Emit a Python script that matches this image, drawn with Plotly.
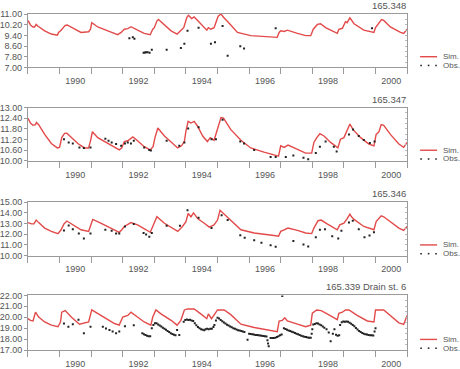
import plotly.graph_objects as go

# ---------------- Panel 1 : 165.348 ----------------
sim1_t = [1989.00, 1989.08, 1989.16, 1989.21, 1989.26, 1989.32, 1989.53, 1989.74, 1989.93, 1989.97,
          1990.05, 1990.18, 1990.24, 1990.42, 1990.68, 1990.92, 1990.98, 1991.02, 1991.21, 1991.53,
          1991.84, 1991.95, 1992.05, 1992.16, 1992.26, 1992.47, 1992.68, 1992.87, 1992.95, 1993.00,
          1993.08, 1993.13, 1993.32, 1993.53, 1993.72, 1993.84, 1993.93, 1994.03, 1994.08, 1994.18,
          1994.26, 1994.37, 1994.53, 1994.66, 1994.71, 1994.79, 1994.89, 1995.02, 1995.11, 1995.19,
          1995.42, 1995.63, 1996.05, 1996.47, 1996.89, 1996.95, 1997.00, 1997.11, 1997.21, 1997.53,
          1997.79, 1997.95, 1998.03, 1998.16, 1998.26, 1998.42, 1998.79, 1998.84, 1998.95, 1999.05,
          1999.10, 1999.19, 1999.32, 1999.63, 1999.95, 2000.00, 2000.11, 2000.19, 2000.26, 2000.47,
          2000.79, 2000.89, 2001.00]
sim1_v = [10.52, 10.18, 10.03, 10.03, 10.22, 10.08, 9.74, 9.50, 9.42, 9.62,
          9.79, 10.15, 10.18, 9.93, 9.62, 9.67, 9.86, 10.35, 10.03, 9.74,
          9.45, 9.62, 9.86, 9.91, 10.05, 9.79, 9.55, 9.45, 9.86, 9.98,
          10.47, 10.59, 10.18, 9.74, 9.50, 9.74, 9.98, 10.76, 10.90, 10.66,
          10.78, 10.52, 10.10, 9.79, 9.98, 9.86, 9.98, 10.83, 11.00, 10.76,
          10.18, 9.62, 9.38, 9.30, 9.25, 9.62, 9.74, 9.69, 9.79, 9.55,
          9.38, 9.38, 9.86, 10.22, 10.27, 9.98, 9.55, 9.86, 9.93, 10.42,
          10.35, 10.71, 10.27, 9.79, 9.62, 9.98, 10.35, 10.59, 10.52, 10.03,
          9.62, 9.55, 9.86]
obs1_t = [1992.21, 1992.32, 1992.37, 1992.66, 1992.70, 1992.74, 1992.79, 1992.85, 1992.92, 1993.39,
          1993.84, 1993.95, 1994.05, 1994.40, 1994.79, 1994.92, 1995.16, 1995.32, 1995.72, 1995.84,
          1996.84, 1999.89]
obs1_v = [9.18, 9.25, 9.15, 8.09, 8.12, 8.14, 8.14, 8.09, 8.33, 8.33,
          8.45, 8.77, 9.74, 9.98, 8.77, 8.89, 10.10, 7.87, 8.58, 8.41,
          9.93, 9.93]

# ---------------- Panel 2 : 165.347 ----------------
sim2_t = [1989.00, 1989.08, 1989.16, 1989.24, 1989.27, 1989.34, 1989.53, 1989.74, 1989.93, 1990.00,
          1990.07, 1990.16, 1990.23, 1990.37, 1990.58, 1990.79, 1990.92, 1990.98, 1991.04, 1991.21,
          1991.53, 1991.74, 1991.89, 1991.97, 1992.05, 1992.16, 1992.32, 1992.47, 1992.68, 1992.87,
          1992.96, 1993.02, 1993.11, 1993.32, 1993.53, 1993.74, 1993.86, 1993.95, 1994.00, 1994.07,
          1994.16, 1994.26, 1994.37, 1994.53, 1994.68, 1994.77, 1994.89, 1995.00, 1995.11, 1995.19,
          1995.42, 1995.74, 1996.05, 1996.47, 1996.84, 1996.93, 1997.00, 1997.11, 1997.23, 1997.53,
          1997.79, 1997.98, 1998.05, 1998.14, 1998.24, 1998.37, 1998.58, 1998.81, 1998.89, 1999.00,
          1999.11, 1999.19, 1999.29, 1999.53, 1999.79, 1999.95, 2000.02, 2000.11, 2000.18, 2000.26,
          2000.47, 2000.74, 2000.89, 2001.00]
sim2_v = [12.40, 12.13, 12.00, 12.04, 12.16, 12.04, 11.49, 10.98, 10.73, 10.76,
          11.31, 11.55, 11.56, 11.31, 10.98, 10.73, 10.73, 11.13, 11.64, 11.31,
          10.98, 10.73, 10.62, 10.73, 11.09, 11.13, 11.35, 11.13, 10.80, 10.62,
          10.80, 11.31, 11.85, 11.40, 11.04, 10.73, 10.85, 11.09, 11.67, 12.22,
          12.13, 12.22, 11.95, 11.40, 11.09, 11.31, 11.16, 11.85, 12.44, 12.40,
          11.76, 11.16, 10.73, 10.49, 10.31, 10.27, 10.85, 10.76, 10.89, 10.67,
          10.44, 10.44, 11.04, 11.31, 11.53, 11.40, 11.04, 10.73, 11.22, 11.31,
          11.71, 12.07, 11.76, 11.31, 10.95, 10.85, 11.49, 11.64, 12.04, 12.00,
          11.49, 10.95, 10.76, 11.04]
obs2_t = [1990.14, 1990.29, 1990.42, 1990.63, 1990.77, 1990.98, 1991.45, 1991.55, 1991.65, 1991.79,
          1991.95, 1992.07, 1992.16, 1992.26, 1992.35, 1992.68, 1992.84, 1992.89, 1993.39, 1993.79,
          1993.95, 1994.07, 1994.40, 1994.81, 1994.95, 1995.16, 1995.72, 1995.84, 1996.16, 1996.68,
          1996.84, 1997.16, 1997.40, 1997.72, 1997.87, 1998.11, 1998.24, 1998.42, 1998.68, 1998.77,
          1999.16, 1999.29, 1999.47, 1999.63, 1999.82, 1999.97]
obs2_v = [11.22, 11.04, 10.98, 10.76, 10.73, 10.76, 11.25, 11.13, 11.04, 10.95,
          10.85, 10.98, 11.04, 10.98, 11.13, 10.76, 10.62, 10.58, 11.13, 10.85,
          11.04, 11.82, 11.89, 11.22, 11.22, 12.31, 11.09, 10.98, 10.62, 10.22,
          10.22, 10.22, 10.31, 10.18, 10.09, 10.45, 10.80, 11.09, 10.80, 10.53,
          11.49, 11.76, 11.40, 11.18, 11.00, 11.09]

# ---------------- Panel 3 : 165.346 ----------------
sim3_t = [1989.00, 1989.11, 1989.19, 1989.26, 1989.34, 1989.53, 1989.74, 1989.95, 1990.05, 1990.14,
          1990.23, 1990.42, 1990.68, 1990.92, 1990.98, 1991.05, 1991.32, 1991.63, 1991.89, 1991.97,
          1992.05, 1992.26, 1992.47, 1992.74, 1992.87, 1992.95, 1993.02, 1993.08, 1993.32, 1993.58,
          1993.74, 1993.89, 1994.00, 1994.07, 1994.16, 1994.24, 1994.37, 1994.58, 1994.74, 1994.89,
          1995.00, 1995.08, 1995.19, 1995.42, 1995.74, 1996.16, 1996.47, 1996.79, 1996.93, 1997.00,
          1997.11, 1997.23, 1997.53, 1997.79, 1997.98, 1998.05, 1998.18, 1998.28, 1998.47, 1998.79,
          1998.87, 1999.00, 1999.11, 1999.19, 1999.24, 1999.32, 1999.63, 1999.95, 2000.02, 2000.18,
          2000.26, 2000.47, 2000.74, 2000.89, 2001.00]
sim3_v = [13.09, 12.97, 12.97, 13.33, 13.09, 12.58, 12.27, 12.06, 12.42, 12.97,
          13.24, 12.88, 12.42, 12.27, 12.73, 13.39, 13.03, 12.58, 12.18, 12.42,
          12.73, 13.09, 12.88, 12.42, 12.18, 12.73, 13.18, 13.64, 13.03, 12.58,
          12.27, 12.73, 13.18, 13.94, 13.64, 14.00, 13.48, 13.03, 12.67, 12.88,
          13.33, 14.24, 13.94, 13.27, 12.42, 12.12, 11.97, 11.88, 11.82, 12.27,
          12.42, 12.58, 12.36, 12.12, 12.06, 12.58, 13.27, 13.33, 12.97, 12.42,
          12.88, 13.03, 13.48, 13.88, 13.64, 13.39, 12.73, 12.42, 13.18, 13.73,
          13.64, 13.18, 12.58, 12.36, 12.73]
obs3_t = [1990.14, 1990.29, 1990.42, 1990.61, 1990.77, 1990.98, 1991.45, 1991.65, 1991.79, 1991.89,
          1992.07, 1992.35, 1992.66, 1992.74, 1992.84, 1992.92, 1993.39, 1993.81, 1994.05, 1994.40,
          1994.81, 1995.13, 1995.32, 1995.72, 1995.86, 1996.16, 1996.39, 1996.68, 1996.84, 1997.40,
          1997.72, 1997.87, 1998.11, 1998.24, 1998.40, 1998.63, 1998.82, 1998.92, 1999.16, 1999.28,
          1999.47, 1999.65, 1999.81, 1999.95]
obs3_v = [12.36, 12.82, 12.48, 12.06, 11.61, 12.06, 12.42, 12.33, 12.06, 12.06,
          12.73, 12.97, 12.12, 11.97, 11.76, 12.12, 12.79, 12.79, 14.24, 13.55,
          12.58, 13.79, 13.33, 11.91, 11.67, 11.45, 11.21, 10.97, 10.82, 11.36,
          11.03, 10.85, 11.73, 12.42, 12.48, 11.82, 11.61, 12.33, 13.09, 13.27,
          12.48, 11.73, 11.88, 12.18]

# ---------------- Panel 4 : 165.339 Drain st. 6 ----------------
sim4_t = [1989.00, 1989.08, 1989.16, 1989.24, 1989.34, 1989.53, 1989.74, 1989.95, 1990.03, 1990.07,
          1990.18, 1990.26, 1990.37, 1990.63, 1990.77, 1990.92, 1991.02, 1991.21, 1991.53, 1991.74,
          1991.89, 1992.00, 1992.16, 1992.26, 1992.47, 1992.68, 1992.89, 1992.95, 1993.05, 1993.21,
          1993.53, 1993.72, 1993.84, 1993.95, 1994.05, 1994.26, 1994.47, 1994.66, 1994.71, 1994.81,
          1995.00, 1995.21, 1995.42, 1995.74, 1996.16, 1996.58, 1996.89, 1996.95, 1997.05, 1997.13,
          1997.21, 1997.53, 1997.79, 1997.95, 1998.00, 1998.14, 1998.28, 1998.47, 1998.79, 1998.84,
          1998.95, 1999.05, 1999.16, 1999.42, 1999.74, 1999.95, 2000.00, 2000.26, 2000.47, 2000.74,
          2000.89, 2001.00]
sim4_v = [19.87, 19.72, 19.66, 20.46, 20.02, 19.57, 19.28, 19.13, 19.57, 20.46,
          20.61, 20.37, 20.02, 19.37, 19.49, 19.57, 20.67, 20.31, 19.78, 19.43,
          19.28, 20.02, 20.17, 20.46, 20.02, 19.57, 19.28, 20.02, 20.67, 20.31,
          19.72, 19.28, 19.72, 20.67, 20.76, 20.76, 20.31, 19.87, 20.31, 19.87,
          20.67, 20.67, 20.24, 19.37, 19.07, 18.89, 18.69, 19.66, 19.72, 19.96,
          19.66, 19.37, 19.13, 19.28, 20.37, 20.67, 20.61, 20.31, 19.78, 20.37,
          20.46, 20.67, 20.67, 20.17, 19.66, 19.57, 20.67, 20.67, 20.17, 19.49,
          19.34, 20.17]
obs4_t = [1990.14, 1990.28, 1990.42, 1990.60, 1990.77, 1990.98, 1991.37, 1991.47, 1991.58, 1991.68,
          1991.79, 1991.89, 1992.07, 1992.35, 1993.72, 1993.79, 1995.95, 1996.58, 1996.60, 1996.62,
          1997.05, 1997.98, 1998.00, 1998.45, 1998.52, 1998.58, 1998.65, 1998.70, 1998.75, 1998.80,
          1998.85, 1999.97, 2000.00]
obs4_v = [19.43, 19.13, 19.37, 19.78, 18.54, 19.13, 19.13, 18.98, 18.83, 18.69,
          18.54, 18.69, 19.19, 19.28, 18.83, 18.39, 17.95, 17.90, 17.60, 17.35,
          21.94, 18.50, 18.90, 18.90, 18.60, 17.80, 18.50, 18.90, 18.40, 18.30,
          18.35, 18.70, 19.00]
# dense observation runs: start year, then one value every obs4_step years
obs4_step = 0.05
obs4_run_a_start = 1992.62
obs4_run_a = [18.55, 18.45, 18.38, 18.30, 18.26, 18.27]
obs4_run_b_start = 1992.92
obs4_run_b = [19.00, 19.30, 19.45, 19.45, 19.35, 19.25, 19.15, 19.05, 18.95, 18.85, 18.75, 18.65,
              18.55, 18.46, 18.40, 18.36]
obs4_run_c_start = 1993.93
obs4_run_c = [19.60, 19.75, 19.80, 19.75, 19.78, 19.70, 19.65, 19.45, 19.28, 19.12, 19.00, 18.90,
              18.85, 18.82]
obs4_run_e_start = 1994.62
obs4_run_e = [18.90, 18.95, 18.90, 18.95, 18.95, 19.10]
obs4_run_f_start = 1994.90
obs4_run_f = [19.30, 19.70, 19.95, 19.88, 19.76, 19.64, 19.52, 19.42, 19.32, 19.24, 19.16, 19.08,
              19.00, 18.94, 18.88, 18.82, 18.78, 18.74, 18.70, 18.66]
obs4_run_g_start = 1996.00
obs4_run_g = [18.50, 18.47, 18.44, 18.42, 18.39, 18.37, 18.35, 18.33, 18.31, 18.29, 18.27, 18.25]
obs4_run_h_start = 1996.68
obs4_run_h = [18.10, 18.10, 18.10, 18.12, 18.20, 18.26, 18.35, 18.42]
obs4_run_i_start = 1997.10
obs4_run_i = [19.00, 18.93, 18.86, 18.80, 18.74, 18.68, 18.62, 18.56, 18.50, 18.44, 18.38, 18.32,
              18.27, 18.23, 18.19, 18.15, 18.13, 18.12]
obs4_run_j_start = 1998.03
obs4_run_j = [19.35, 19.38, 19.45, 19.43, 19.35, 19.28, 19.15, 19.05]
obs4_run_k_start = 1998.88
obs4_run_k = [19.30, 19.55, 19.62, 19.60, 19.62, 19.58, 19.50, 19.40, 19.30, 19.18, 19.02, 18.88,
              18.75, 18.65, 18.56, 18.50, 18.45, 18.42, 18.38, 18.36, 18.35, 18.33]
obs4_runs = [(obs4_run_a_start, obs4_run_a), (obs4_run_b_start, obs4_run_b),
             (obs4_run_c_start, obs4_run_c), (obs4_run_e_start, obs4_run_e),
             (obs4_run_f_start, obs4_run_f), (obs4_run_g_start, obs4_run_g),
             (obs4_run_h_start, obs4_run_h), (obs4_run_i_start, obs4_run_i),
             (obs4_run_j_start, obs4_run_j), (obs4_run_k_start, obs4_run_k)]

# ---------------- axes labels ----------------
titles = ["165.348", "165.347", "165.346", "165.339 Drain st. 6"]
ytick_vals = [
    [7.0, 7.8, 8.6, 9.4, 10.2, 11.0],
    [10.0, 10.6, 11.2, 11.8, 12.4, 13.0],
    [10.0, 11.0, 12.0, 13.0, 14.0, 15.0],
    [17.0, 18.0, 19.0, 20.0, 21.0, 22.0],
]
year_labels = ["1990", "1992", "1994", "1996", "1998", "2000"]
year_label_pos = [1990.5, 1992.5, 1994.5, 1996.5, 1998.5, 2000.5]
x_range = [1989, 2001]

# combine panel 4 observations
obs4_all_t = list(obs4_t)
obs4_all_v = list(obs4_v)
for start, vals in obs4_runs:
    for i, v in enumerate(vals):
        obs4_all_t.append(start + i * obs4_step)
        obs4_all_v.append(v)

sims = [(sim1_t, sim1_v), (sim2_t, sim2_v), (sim3_t, sim3_v), (sim4_t, sim4_v)]
obss = [(obs1_t, obs1_v), (obs2_t, obs2_v), (obs3_t, obs3_v), (obs4_all_t, obs4_all_v)]

W, H = 460, 369
RED = "#e34a4a"
AX = "#9a9a9a"
TXT = "#555555"
FONT = "Liberation Sans, Arial, sans-serif"

# pixel layout (top, bottom) of each plot box
boxes = [(9.3, 64.3), (105.7, 160.7), (203.3, 258.3), (299.3, 355.7)]
x0, x1 = 27 / W, 407 / W

fig = go.Figure()
layout = dict(
    width=W, height=H, margin=dict(l=0, r=0, t=0, b=0),
    paper_bgcolor="white", plot_bgcolor="white", showlegend=False,
    font=dict(family=FONT, size=9, color=TXT),
)
shapes = []
annotations = []

for k in range(4):
    n = k + 1
    xa = "x" if n == 1 else f"x{n}"
    ya = "y" if n == 1 else f"y{n}"
    top, bot = boxes[k]
    dom = [1 - bot / H, 1 - top / H]
    yv = ytick_vals[k]
    fig.add_trace(go.Scatter(x=sims[k][0], y=sims[k][1], mode="lines",
                             line=dict(color=RED, width=1.4), xaxis=xa, yaxis=ya))
    fig.add_trace(go.Scatter(x=obss[k][0], y=obss[k][1], mode="markers",
                             marker=dict(color="#222222", size=2, symbol="square"),
                             xaxis=xa, yaxis=ya))
    layout["xaxis" if n == 1 else f"xaxis{n}"] = dict(
        domain=[x0, x1], range=x_range, anchor=ya,
        showline=True, linecolor=AX, linewidth=1, mirror=True, showgrid=False, zeroline=False,
        tickvals=year_label_pos, ticktext=year_labels, ticks="outside", ticklen=5,
        tickcolor="rgba(0,0,0,0)", tickfont=dict(size=9, color=TXT),
        minor=dict(tick0=1989, dtick=1, ticks="outside", ticklen=6, tickcolor=AX, showgrid=False),
    )
    layout["yaxis" if n == 1 else f"yaxis{n}"] = dict(
        domain=dom, range=[yv[0], yv[-1]], anchor=xa,
        showline=True, linecolor=AX, linewidth=1, mirror=True, showgrid=False, zeroline=False,
        tickvals=yv, tickformat=".2f", ticks="outside", ticklen=3, tickcolor=AX,
        tickfont=dict(size=9, color=TXT),
    )
    # right-hand inside ticks
    m = n + 4
    step = (yv[1] - yv[0]) / 2
    layout[f"yaxis{m}"] = dict(
        domain=dom, range=[yv[0], yv[-1]], overlaying=ya, side="right", anchor=xa,
        showline=False, showgrid=False, zeroline=False, showticklabels=False,
        tick0=yv[0], dtick=step, ticks="inside", ticklen=2, tickcolor="#bbbbbb",
    )
    # title
    annotations.append(dict(text=titles[k], xref="paper", yref="paper", x=x1 + 0.002,
                            y=1 - (top - 1) / H, xanchor="right", yanchor="bottom",
                            showarrow=False, font=dict(size=9.5, color=TXT)))
    # legend
    ys = 1 - (bot - 11) / H
    yo = 1 - (bot - 2) / H
    shapes.append(dict(type="line", xref="paper", yref="paper", x0=420 / W, x1=437 / W,
                       y0=ys, y1=ys, line=dict(color=RED, width=1.4)))
    for px in (421, 428.5, 436):
        shapes.append(dict(type="rect", xref="paper", yref="paper",
                           x0=(px - 0.8) / W, x1=(px + 0.8) / W, y0=yo - 0.8 / H, y1=yo + 0.8 / H,
                           line=dict(width=0), fillcolor="#222222"))
    annotations.append(dict(text="Sim.", xref="paper", yref="paper", x=441 / W, y=ys,
                            xanchor="left", yanchor="middle", showarrow=False,
                            font=dict(size=8, color=TXT)))
    annotations.append(dict(text="Obs.", xref="paper", yref="paper", x=441 / W, y=yo,
                            xanchor="left", yanchor="middle", showarrow=False,
                            font=dict(size=8, color=TXT)))
    # empty trace so the overlay axis renders
    fig.add_trace(go.Scatter(x=[None], y=[None], xaxis=xa, yaxis=f"y{m}", showlegend=False,
                             hoverinfo="skip"))

layout["shapes"] = shapes
layout["annotations"] = annotations
fig.update_layout(**layout)
fig.write_html("out.html", config={"displayModeBar": False},
               post_script="document.body.style.margin='0px';document.body.style.overflow='hidden';")
